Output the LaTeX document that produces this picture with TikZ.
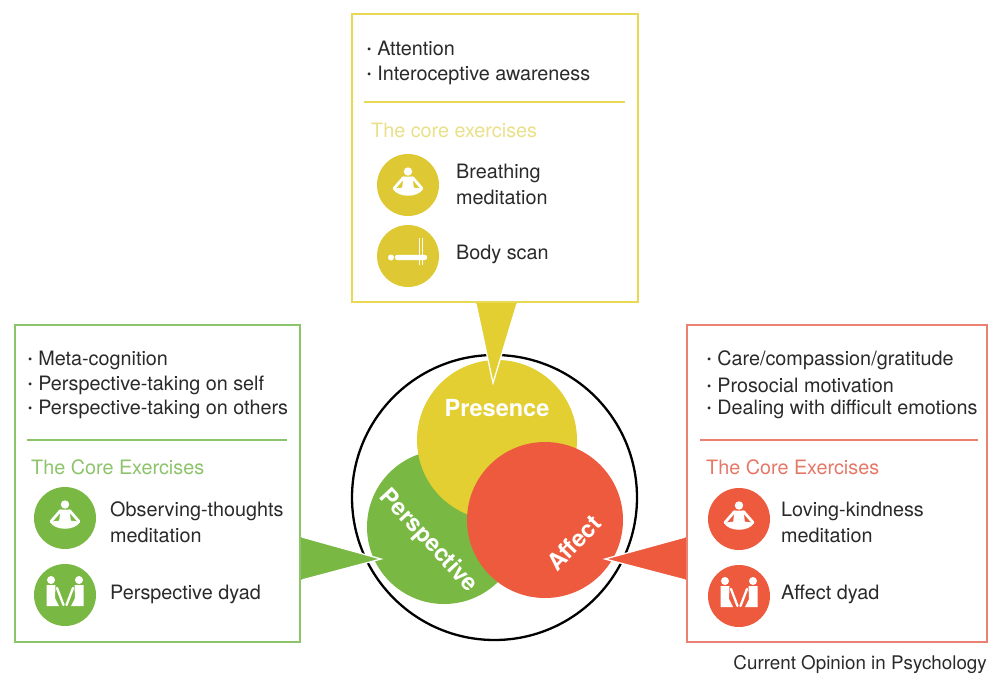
\documentclass[tikz,border=0pt]{standalone}
\usepackage{fontspec}
\usepackage{graphicx}
\setmainfont{TeX Gyre Heros}
\definecolor{yel}{HTML}{E3CF32}
\definecolor{yelline}{HTML}{E9DA55}
\definecolor{yelhead}{HTML}{EBE08A}
\definecolor{yelicon}{HTML}{DEC934}
\definecolor{grn}{HTML}{78B843}
\definecolor{grnline}{HTML}{8CC46C}
\definecolor{grnhead}{HTML}{8DC46B}
\definecolor{rd}{HTML}{EE5A3D}
\definecolor{rdline}{HTML}{EC8072}
\definecolor{rdhead}{HTML}{E67868}
\definecolor{txt}{HTML}{2A2A2A}
\newcommand\bul{\raisebox{0.18ex}{\scalebox{0.6}{•}}\hspace{0.3em}}
\begin{document}
\begin{tikzpicture}[x=1pt,y=-1pt,
  boxstyle/.style={draw=#1, line width=1.7pt, fill=none, inner sep=0pt, rectangle},
  bigcirc/.style={circle, fill=#1, inner sep=0pt},
  iconcirc/.style={circle, fill=#1, minimum size=62pt, inner sep=0pt},
  body/.style={anchor=west, inner sep=0pt, text=txt, font=\fontsize{19.8}{23}\selectfont},
  head/.style={anchor=west, inner sep=0pt, text=#1, font=\fontsize{19.8}{23}\selectfont},
  lbl/.style={inner sep=0pt, text=white, font=\fontsize{23.5}{26}\selectfont\bfseries},
  medpic/.pic={
    \fill[white] (0,-13.5) circle (4.2pt);
    \fill[white] (-4.5,-8.5) -- (4.5,-8.5) -- (6,4) -- (-6,4) -- cycle;
    \draw[white, line width=2.8pt, line cap=round] (-4.5,-7.5) -- (-14,3.5) (4.5,-7.5) -- (14,3.5);
    \fill[white] (-15,4) .. controls (-8,2) and (8,2) .. (15,4) .. controls (10,13) and (-10,13) .. (-15,4) -- cycle;
  },
  scanpic/.pic={
    \fill[white] (-17,1.5) circle (3pt);
    \fill[white, rounded corners=2pt] (-13,-1.2) rectangle (19,4);
    \draw[white, line width=0.6pt] (11,-18) -- (11,9) (14.5,-18) -- (14.5,9);
  },
  dyadpic/.pic={
    \foreach \s in {-1,1}{
      \fill[white] ({14*\s},-15) circle (4pt);
      \fill[white] ({9.5*\s},-10) -- ({18.5*\s},-10) -- ({18.5*\s},11) -- ({6*\s},11) -- ({10*\s},3) -- cycle;
      \draw[white, line width=2.3pt, line cap=round] ({8*\s},-7) -- ({1.5*\s},10);
    }
  }
]
\useasboundingbox (0,0) rectangle (993,674);
\fill[white] (0,0) rectangle (993,674);

% central circles
\node[circle, draw=black, line width=2.3pt, minimum size=285pt, inner sep=0pt] (outer) at (494.5,497.5) {};
\node[bigcirc=grn, minimum size=154pt] (pcirc) at (444,527) {};
\node[bigcirc=yel, minimum size=160pt] (ycirc) at (497,440) {};
\node[bigcirc=rd, minimum size=156pt] (acirc) at (545,520) {};

\node[lbl] (tpres) at (497,408) {Presence};
\node[lbl, rotate=-47] (tpers) at (428,541) {Perspective};
\node[lbl, rotate=46] (taff) at (574,543) {Affect};

% boxes (nodes) for triangles
\node[boxstyle=yelline, minimum width=286pt, minimum height=288pt] (ybox) at (495,158) {};
\node[boxstyle=grnline, minimum width=285pt, minimum height=317pt] (gbox) at (157.5,483.5) {};
\node[boxstyle=rdline, minimum width=300pt, minimum height=317pt] (rbox) at (837,483.5) {};

% pointer triangles
\coordinate (yapex) at (493,383);
\coordinate (gapex) at (381,559);
\coordinate (rapex) at (605,559);
\fill[yel] ([xshift=-19pt]ybox.south) -- (yapex) -- ([xshift=22pt]ybox.south) -- cycle;
\draw[white, line width=1.3pt] ([xshift=-19pt,yshift=-1pt]ybox.south) -- (yapex) -- ([xshift=22pt,yshift=-1pt]ybox.south);
\fill[grn] ([yshift=-53.5pt]gbox.east) -- (gapex) -- ([yshift=-96.5pt]gbox.east) -- cycle;
\draw[white, line width=1.3pt] ([xshift=1pt,yshift=-53.5pt]gbox.east) -- (gapex) -- ([xshift=1pt,yshift=-96.5pt]gbox.east);
\fill[rd] ([yshift=-53.5pt]rbox.west) -- (rapex) -- ([yshift=-96.5pt]rbox.west) -- cycle;
\draw[white, line width=1.3pt] ([xshift=-1pt,yshift=-53.5pt]rbox.west) -- (rapex) -- ([xshift=-1pt,yshift=-96.5pt]rbox.west);
% redraw box borders over triangle bases
\node[boxstyle=yelline, minimum width=286pt, minimum height=288pt] (ybox2) at (495,158) {};
\node[boxstyle=grnline, minimum width=285pt, minimum height=317pt] (gbox2) at (157.5,483.5) {};
\node[boxstyle=rdline, minimum width=300pt, minimum height=317pt] (rbox2) at (837,483.5) {};

% ---------- top box content ----------
\node[body] (y1) at (367,48) {\bul Attention};
\node[body] (y2) at (367,75) {\bul Interoceptive awareness};
\coordinate (ysepl) at (364,102);
\coordinate (ysepr) at (625,102);
\draw[yelline, line width=1.6pt] (ysepl) -- (ysepr);
\node[head=yelhead] (yh) at (371,130) {The core exercises};
\node[iconcirc=yelicon] (yi1) at (408,185) {};
\pic at (yi1.center) {medpic};
\node[iconcirc=yelicon] (yi2) at (408,256) {};
\pic at (yi2.center) {scanpic};
\node[body] (yt1) at (456,173) {Breathing};
\node[body] (yt2) at (456,197) {meditation};
\node[body] (yt3) at (456,254) {Body scan};

% ---------- left box content ----------
\node[body] (g1) at (28,360) {\bul Meta-cognition};
\node[body] (g2) at (28,385) {\bul Perspective-taking on self};
\node[body] (g3) at (28,409) {\bul Perspective-taking on others};
\coordinate (gsepl) at (27,440);
\coordinate (gsepr) at (287,440);
\draw[grnline, line width=1.6pt] (gsepl) -- (gsepr);
\node[head=grnhead] (gh) at (31,467) {The Core Exercises};
\node[iconcirc=grn] (gi1) at (65,518) {};
\pic at (gi1.center) {medpic};
\node[iconcirc=grn] (gi2) at (65,595) {};
\pic at (gi2.center) {dyadpic};
\node[body] (gt1) at (110,511) {Observing-thoughts};
\node[body] (gt2) at (110,535) {meditation};
\node[body] (gt3) at (110,594) {Perspective dyad};

% ---------- right box content ----------
\node[body] (r1) at (707,360) {\bul Care/compassion/gratitude};
\node[body] (r2) at (707,385) {\bul Prosocial motivation};
\node[body] (r3) at (707,409) {\bul Dealing with difficult emotions};
\coordinate (rsepl) at (700,440);
\coordinate (rsepr) at (978,440);
\draw[rdline, line width=1.6pt] (rsepl) -- (rsepr);
\node[head=rdhead] (rh) at (706,467) {The Core Exercises};
\node[iconcirc=rd] (ri1) at (739,519) {};
\pic at (ri1.center) {medpic};
\node[iconcirc=rd] (ri2) at (739,596) {};
\pic at (ri2.center) {dyadpic};
\node[body] (rt1) at (781,511) {Loving-kindness};
\node[body] (rt2) at (781,535) {meditation};
\node[body] (rt3) at (781,594) {Affect dyad};

% caption
\node[anchor=east, inner sep=0pt, text=txt, font=\fontsize{18.8}{21}\selectfont] (cap) at (987,665) {Current Opinion in Psychology};
\end{tikzpicture}
\end{document}
